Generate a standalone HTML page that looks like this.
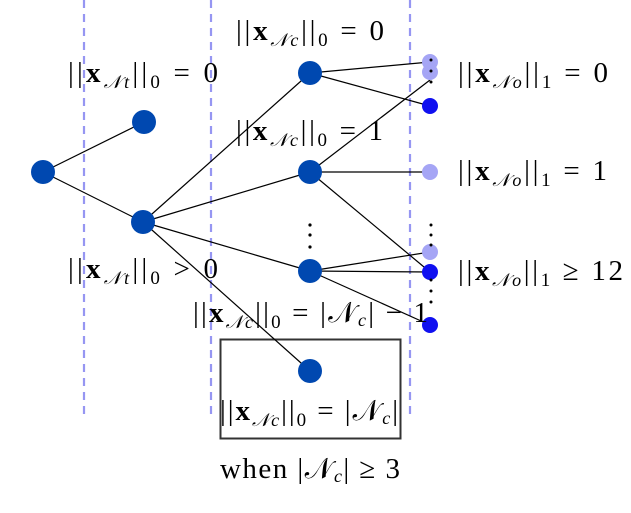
<!DOCTYPE html>
<html><head><style>
body{margin:0;background:#fff;}
svg{display:block}
text{font-family:"Liberation Serif",serif;font-size:29px;fill:#000}
.b{font-weight:bold}
.s{font-size:18px;font-style:italic}
</style></head><body>
<svg width="631" height="513" viewBox="0 0 631 513">
<g stroke="#9696f2" stroke-width="2.2" stroke-dasharray="8,6">
<line x1="84" y1="0" x2="84" y2="418"/>
<line x1="211" y1="0" x2="211" y2="418"/>
<line x1="410" y1="0" x2="410" y2="418"/>
</g>
<rect x="220.5" y="339.5" width="180" height="99" fill="none" stroke="#333" stroke-width="2"/>
<g stroke="#000" stroke-width="1.2">
<line x1="43" y1="172" x2="144" y2="122"/>
<line x1="43" y1="172" x2="143" y2="222"/>
<line x1="143" y1="222" x2="310" y2="73"/>
<line x1="143" y1="222" x2="310" y2="172"/>
<line x1="143" y1="222" x2="310" y2="271"/>
<line x1="143" y1="222" x2="310" y2="371"/>
<line x1="310" y1="73" x2="430" y2="62"/>
<line x1="310" y1="73" x2="430" y2="106"/>
<line x1="310" y1="172" x2="430" y2="80"/>
<line x1="310" y1="172" x2="430" y2="172"/>
<line x1="310" y1="172" x2="430" y2="272"/>
<line x1="310" y1="271" x2="430" y2="252"/>
<line x1="310" y1="271" x2="430" y2="272"/>
<line x1="310" y1="271" x2="430" y2="325"/>
</g>
<g fill="#0048b0">
<circle cx="43" cy="172" r="12"/>
<circle cx="144" cy="122" r="12"/>
<circle cx="143" cy="222" r="12"/>
<circle cx="310" cy="73" r="12"/>
<circle cx="310" cy="172" r="12"/>
<circle cx="310" cy="271" r="12"/>
<circle cx="310" cy="371" r="12"/>
</g>
<g fill="#a5a5f5">
<circle cx="430" cy="62" r="8"/>
<circle cx="430" cy="72" r="8"/>
<circle cx="430" cy="172" r="8"/>
<circle cx="430" cy="252" r="8"/>
</g>
<g fill="#1010f0">
<circle cx="430" cy="106" r="8"/>
<circle cx="430" cy="272" r="8"/>
<circle cx="430" cy="325" r="8"/>
</g>
<g fill="#000">
<circle cx="310" cy="225" r="1.6"/><circle cx="310" cy="235" r="1.6"/><circle cx="310" cy="247" r="1.6"/>
<circle cx="431" cy="60" r="1.5"/><circle cx="431" cy="71" r="1.5"/><circle cx="431" cy="82" r="1.5"/>
<circle cx="431" cy="225" r="1.5"/><circle cx="431" cy="235" r="1.5"/><circle cx="431" cy="245" r="1.5"/>
<circle cx="431" cy="280" r="1.5"/><circle cx="431" cy="291" r="1.5"/><circle cx="431" cy="302" r="1.5"/>
</g>
<text x="68" y="82" textLength="150" lengthAdjust="spacing">||<tspan class="b">x</tspan><tspan class="s" dy="6">𝒩t</tspan><tspan dy="-6">||</tspan><tspan font-size="19" dy="6">0</tspan><tspan dy="-6"> = 0</tspan></text>
<text x="236" y="40" textLength="148" lengthAdjust="spacing">||<tspan class="b">x</tspan><tspan class="s" dy="6">𝒩c</tspan><tspan dy="-6">||</tspan><tspan font-size="19" dy="6">0</tspan><tspan dy="-6"> = 0</tspan></text>
<text x="236" y="140" textLength="147" lengthAdjust="spacing">||<tspan class="b">x</tspan><tspan class="s" dy="6">𝒩c</tspan><tspan dy="-6">||</tspan><tspan font-size="19" dy="6">0</tspan><tspan dy="-6"> = 1</tspan></text>
<text x="68" y="278" textLength="150" lengthAdjust="spacing">||<tspan class="b">x</tspan><tspan class="s" dy="6">𝒩t</tspan><tspan dy="-6">||</tspan><tspan font-size="19" dy="6">0</tspan><tspan dy="-6"> &gt; 0</tspan></text>
<text x="193" y="322" textLength="235" lengthAdjust="spacing">||<tspan class="b">x</tspan><tspan class="s" dy="6">𝒩c</tspan><tspan dy="-6">||</tspan><tspan font-size="19" dy="6">0</tspan><tspan dy="-6"> = |𝒩</tspan><tspan class="s" dy="4">c</tspan><tspan dy="-4">| − 1</tspan></text>
<text x="220" y="420" textLength="178" lengthAdjust="spacing">||<tspan class="b">x</tspan><tspan class="s" dy="6">𝒩c</tspan><tspan dy="-6">||</tspan><tspan font-size="19" dy="6">0</tspan><tspan dy="-6"> = |𝒩</tspan><tspan class="s" dy="4">c</tspan><tspan dy="-4">|</tspan></text>
<text x="220" y="478" textLength="180" lengthAdjust="spacing">when |𝒩<tspan class="s" dy="4">c</tspan><tspan dy="-4">| ≥ 3</tspan></text>
<text x="458" y="82" textLength="150" lengthAdjust="spacing">||<tspan class="b">x</tspan><tspan class="s" dy="6">𝒩o</tspan><tspan dy="-6">||</tspan><tspan font-size="19" dy="6">1</tspan><tspan dy="-6"> = 0</tspan></text>
<text x="458" y="180" textLength="149" lengthAdjust="spacing">||<tspan class="b">x</tspan><tspan class="s" dy="6">𝒩o</tspan><tspan dy="-6">||</tspan><tspan font-size="19" dy="6">1</tspan><tspan dy="-6"> = 1</tspan></text>
<text x="458" y="280" textLength="165" lengthAdjust="spacing">||<tspan class="b">x</tspan><tspan class="s" dy="6">𝒩o</tspan><tspan dy="-6">||</tspan><tspan font-size="19" dy="6">1</tspan><tspan dy="-6"> ≥ 12</tspan></text>
</svg>
</body></html>
